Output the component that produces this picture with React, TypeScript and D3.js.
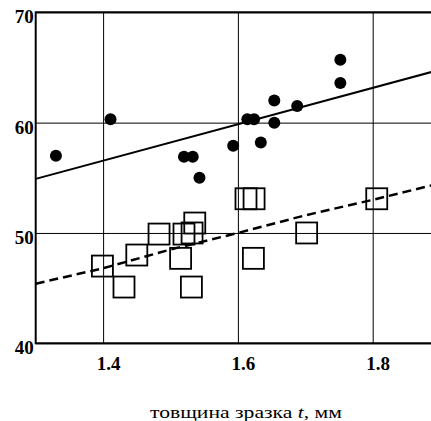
import React, { useEffect, useRef } from "react";
import * as d3 from "d3";

// filled circles (upper series)
const dotX = [1.33, 1.411, 1.52, 1.533, 1.543, 1.593, 1.614, 1.624, 1.634, 1.654, 1.654, 1.688, 1.752, 1.752];
const dotY = [57.0, 60.3, 56.9, 56.9, 55.0, 57.9, 60.3, 60.3, 58.2, 60.0, 62.0, 61.5, 63.6, 65.7];

// open squares (lower series)
const sqX = [1.399, 1.431, 1.45, 1.483, 1.515, 1.52, 1.532, 1.536, 1.531, 1.612, 1.624, 1.623, 1.702, 1.806];
const sqY = [47.0, 45.1, 48.0, 49.9, 47.7, 49.9, 50.0, 50.9, 45.1, 53.1, 53.1, 47.7, 50.0, 53.1];

// fitted lines
const solidFit: [number, number][] = [[1.3, 54.9], [1.9, 64.8]];
const dashedFit: [number, number][] = [
  [1.3, 45.4], [1.4, 46.8], [1.5, 48.5], [1.6, 50.0], [1.7, 51.6], [1.8, 53.0], [1.9, 54.5],
];

const xTicks = [1.4, 1.6, 1.8];
const yTicks = [40, 50, 60, 70];
const xTitle = "товщина зразка ";
const xTitleVar = "t";
const xTitleUnit = ", мм";

const App = () => {
  const svgRef = useRef<SVGSVGElement | null>(null);

  useEffect(() => {
    const svg = d3.select(svgRef.current);
    svg.selectAll("*").remove();

    const left = 35.7;
    const top = 12.3;
    const bottom = 343.3;
    const x = d3.scaleLinear().domain([1.3, 1.9]).range([left, left + 404.4]);
    const y = d3.scaleLinear().domain([40, 70]).range([bottom, top]);
    const serif = "'Liberation Serif', 'Times New Roman', serif";

    // vertical grid + x tick labels
    const xAxis = svg
      .append("g")
      .attr("transform", `translate(0,${bottom})`)
      .call(d3.axisBottom(x).tickValues(xTicks).tickSize(-(bottom - top)).tickFormat(d3.format(".1f")));
    xAxis.select(".domain").remove();
    xAxis.selectAll("line").attr("stroke", "#000").attr("stroke-width", 1);
    xAxis
      .selectAll("text")
      .attr("y", 27)
      .attr("dy", 0)
      .attr("dx", 5)
      .attr("fill", "#000")
      .style("font-family", serif)
      .style("font-weight", "bold")
      .style("font-size", "19px");

    // horizontal grid + y tick labels
    const yAxis = svg
      .append("g")
      .attr("transform", `translate(${left},0)`)
      .call(d3.axisLeft(y).tickValues(yTicks).tickSize(-500).tickFormat(d3.format("d")));
    yAxis.select(".domain").remove();
    yAxis.selectAll("line").attr("stroke", "#000").attr("stroke-width", 1);
    yAxis
      .selectAll("text")
      .attr("x", -2)
      .attr("dy", 0)
      .attr("y", 10.5)
      .attr("fill", "#000")
      .style("font-family", serif)
      .style("font-weight", "bold")
      .style("font-size", "19px");

    // frame (top, left, bottom)
    svg
      .append("path")
      .attr("d", `M${left + 500},${top} L${left},${top} L${left},${bottom} L${left + 500},${bottom}`)
      .attr("fill", "none")
      .attr("stroke", "#000")
      .attr("stroke-width", 2);

    const line = d3.line<[number, number]>().x((d) => x(d[0])).y((d) => y(d[1]));

    svg
      .append("path")
      .attr("d", line(solidFit))
      .attr("fill", "none")
      .attr("stroke", "#000")
      .attr("stroke-width", 2);

    svg
      .append("path")
      .attr("d", line(dashedFit))
      .attr("fill", "none")
      .attr("stroke", "#000")
      .attr("stroke-width", 2.5)
      .attr("stroke-dasharray", "9,5");

    // squares
    const side = 21;
    svg
      .append("g")
      .selectAll("rect")
      .data(sqX.map((v, i) => [v, sqY[i]]))
      .join("rect")
      .attr("x", (d) => x(d[0]) - side / 2)
      .attr("y", (d) => y(d[1]) - side / 2)
      .attr("width", side)
      .attr("height", side)
      .attr("fill", "none")
      .attr("stroke", "#000")
      .attr("stroke-width", 1.8);

    // dots
    svg
      .append("g")
      .selectAll("circle")
      .data(dotX.map((v, i) => [v, dotY[i]]))
      .join("circle")
      .attr("cx", (d) => x(d[0]))
      .attr("cy", (d) => y(d[1]))
      .attr("r", 6)
      .attr("fill", "#000");

    // x title
    const title = svg
      .append("text")
      .attr("x", 150)
      .attr("y", 418)
      .attr("textLength", 192)
      .attr("lengthAdjust", "spacingAndGlyphs")
      .style("font-family", serif)
      .style("font-size", "17px")
      .attr("fill", "#000");
    title.append("tspan").text(xTitle);
    title.append("tspan").style("font-style", "italic").text(xTitleVar);
    title.append("tspan").text(xTitleUnit);
  }, []);

  return (
    <svg
      ref={svgRef}
      width={431}
      height={421}
      style={{ position: "absolute", left: 0, top: 0, background: "#fff" }}
    ></svg>
  );
};

export default App;
